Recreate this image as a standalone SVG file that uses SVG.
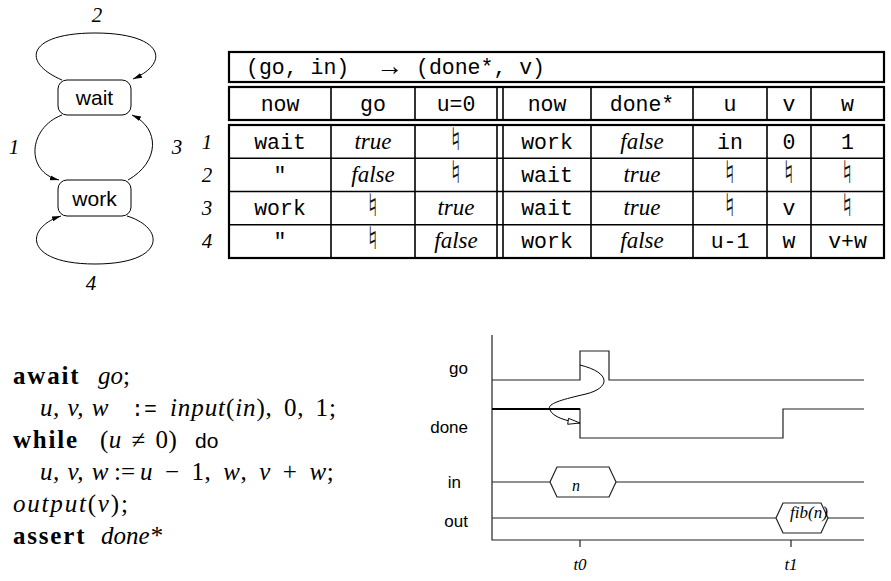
<svg xmlns="http://www.w3.org/2000/svg" width="891" height="581" viewBox="0 0 891 581">
<defs>
<style>
.sans{font-family:"Liberation Sans",Arial,sans-serif;}
.mono{font-family:"Liberation Mono","DejaVu Sans Mono",monospace;font-size:21.5px;}
.it{font-family:"Liberation Serif","Times New Roman",serif;font-style:italic;}
.rm{font-family:"Liberation Serif","Times New Roman",serif;}
.bf{font-family:"Liberation Serif","Times New Roman",serif;font-weight:bold;letter-spacing:1.8px;}
.nat{font-family:"DejaVu Sans",sans-serif;font-size:31px;fill:#111;}
.box{fill:none;stroke:#000;stroke-width:2.2;}
.thin{stroke:#000;stroke-width:1.6;fill:none;}
.edge{fill:none;stroke:#000;stroke-width:1;}
.node rect{fill:#fff;stroke:#000;stroke-width:1;}
.sig{fill:none;stroke:#222;stroke-width:1.2;}
</style>
<marker id="ah" markerWidth="10" markerHeight="8" refX="9" refY="4" orient="auto" markerUnits="userSpaceOnUse">
<path d="M0,1.5 L9,4 L0,6.5 Z" fill="#000"/>
</marker>
<marker id="oah" markerWidth="14" markerHeight="8" refX="13" refY="4" orient="auto" markerUnits="userSpaceOnUse">
<path d="M1,1 L13,4 L1,7 Z" fill="#fff" stroke="#000" stroke-width="0.9"/>
</marker>
</defs>
<rect width="891" height="581" fill="#fff"/>

<!-- State diagram -->
<g id="connectors">
<path class="edge" d="M62,80 C20,62 28,33 95,33 C162,33 172,62 133,79" marker-end="url(#ah)"/>
<path class="edge" d="M62,115 C28,128 25,172 59,180" marker-end="url(#ah)"/>
<path class="edge" d="M128,180 C160,162 160,128 132,115" marker-end="url(#ah)"/>
<path class="edge" d="M127,216 C166,228 166,264 95,264 C24,264 24,228 61,216" marker-end="url(#ah)"/>
</g>
<g id="node-wait" class="node">
<rect x="58" y="80" width="73" height="35" rx="9"/>
<text class="sans" x="94.5" y="105" font-size="21" text-anchor="middle">wait</text>
</g>
<g id="node-work" class="node">
<rect x="58" y="180" width="73" height="36" rx="9"/>
<text class="sans" x="94.5" y="206" font-size="21" text-anchor="middle">work</text>
</g>
<g id="edge-labels" font-size="21">
<text class="it" x="97" y="22" text-anchor="middle">2</text>
<text class="it" x="14" y="154" text-anchor="middle">1</text>
<text class="it" x="177" y="154" text-anchor="middle">3</text>
<text class="it" x="91" y="290" text-anchor="middle">4</text>
</g>

<!-- Table -->
<g id="table">
<rect class="box" x="229" y="52" width="655" height="30"/>
<rect class="box" x="229" y="87" width="655" height="33"/>
<rect class="box" x="229" y="125" width="655" height="133"/>
<g class="thin">
<line x1="331" y1="87" x2="331" y2="120"/><line x1="415" y1="87" x2="415" y2="120"/>
<line x1="497" y1="87" x2="497" y2="120"/><line x1="503" y1="87" x2="503" y2="120"/>
<line x1="591" y1="87" x2="591" y2="120"/><line x1="693" y1="87" x2="693" y2="120"/>
<line x1="767" y1="87" x2="767" y2="120"/><line x1="811" y1="87" x2="811" y2="120"/>
<line x1="331" y1="125" x2="331" y2="258"/><line x1="415" y1="125" x2="415" y2="258"/>
<line x1="497" y1="125" x2="497" y2="258"/><line x1="503" y1="125" x2="503" y2="258"/>
<line x1="591" y1="125" x2="591" y2="258"/><line x1="693" y1="125" x2="693" y2="258"/>
<line x1="767" y1="125" x2="767" y2="258"/><line x1="811" y1="125" x2="811" y2="258"/>
<line x1="229" y1="158.3" x2="884" y2="158.3"/>
<line x1="229" y1="191.5" x2="884" y2="191.5"/>
<line x1="229" y1="224.8" x2="884" y2="224.8"/>
</g>
<text x="246" y="74" class="mono">(go, in)<tspan class="rm" font-size="27" x="376" y="75">→</tspan><tspan x="416" y="74">(done*, v)</tspan></text>
<g class="mono" text-anchor="middle">
<text x="280" y="111">now</text><text x="373" y="111">go</text><text x="456" y="111">u=0</text>
<text x="547" y="111">now</text><text x="642" y="111">done*</text><text x="730" y="111">u</text>
<text x="789" y="111">v</text><text x="847.5" y="111">w</text>
</g>
<g class="it" font-size="21" text-anchor="middle">
<text x="207" y="149">1</text><text x="207" y="182">2</text><text x="207" y="215">3</text><text x="207" y="248">4</text>
</g>
<!-- row 1 -->
<text class="mono" x="280" y="149" text-anchor="middle">wait</text>
<text class="it" font-size="23" x="373" y="149" text-anchor="middle">true</text>
<text class="nat" x="456" y="150" text-anchor="middle">♮</text>
<text class="mono" x="547" y="149" text-anchor="middle">work</text>
<text class="it" font-size="23" x="642" y="149" text-anchor="middle">false</text>
<text class="mono" x="730" y="149" text-anchor="middle">in</text>
<text class="mono" x="789" y="149" text-anchor="middle">0</text>
<text class="mono" x="847.5" y="149" text-anchor="middle">1</text>
<!-- row 2 -->
<text class="mono" x="280" y="182" text-anchor="middle">"</text>
<text class="it" font-size="23" x="373" y="182" text-anchor="middle">false</text>
<text class="nat" x="456" y="183" text-anchor="middle">♮</text>
<text class="mono" x="547" y="182" text-anchor="middle">wait</text>
<text class="it" font-size="23" x="642" y="182" text-anchor="middle">true</text>
<text class="nat" x="730" y="183" text-anchor="middle">♮</text>
<text class="nat" x="789" y="183" text-anchor="middle">♮</text>
<text class="nat" x="847.5" y="183" text-anchor="middle">♮</text>
<!-- row 3 -->
<text class="mono" x="280" y="215" text-anchor="middle">work</text>
<text class="nat" x="373" y="216" text-anchor="middle">♮</text>
<text class="it" font-size="23" x="456" y="215" text-anchor="middle">true</text>
<text class="mono" x="547" y="215" text-anchor="middle">wait</text>
<text class="it" font-size="23" x="642" y="215" text-anchor="middle">true</text>
<text class="nat" x="730" y="216" text-anchor="middle">♮</text>
<text class="mono" x="789" y="215" text-anchor="middle">v</text>
<text class="nat" x="847.5" y="216" text-anchor="middle">♮</text>
<!-- row 4 -->
<text class="mono" x="280" y="248" text-anchor="middle">"</text>
<text class="nat" x="373" y="249" text-anchor="middle">♮</text>
<text class="it" font-size="23" x="456" y="248" text-anchor="middle">false</text>
<text class="mono" x="547" y="248" text-anchor="middle">work</text>
<text class="it" font-size="23" x="642" y="248" text-anchor="middle">false</text>
<text class="mono" x="730" y="248" text-anchor="middle">u-1</text>
<text class="mono" x="789" y="248" text-anchor="middle">w</text>
<text class="mono" x="847.5" y="248" text-anchor="middle">v+w</text>
</g>

<!-- Code -->
<g id="code" font-size="25" class="rm">
<text x="13" y="384"><tspan class="bf">await</tspan><tspan class="it" x="98">go</tspan>;</text>
<text x="40" y="416"><tspan class="it" letter-spacing="0.5" word-spacing="1">u, v, w</tspan><tspan class="mono" font-size="20" x="131">:=</tspan><tspan x="170" letter-spacing="0.9" word-spacing="4"><tspan class="it">input</tspan>(<tspan class="it">in</tspan>), 0, 1;</tspan></text>
<text x="13" y="448"><tspan class="bf" letter-spacing="2.6">while</tspan><tspan x="100" letter-spacing="0.5" word-spacing="3">(<tspan class="it">u</tspan> ≠ 0)</tspan><tspan class="sans" x="195" font-size="21">do</tspan></text>
<text x="40" y="480"><tspan class="it" letter-spacing="0.5" word-spacing="1">u, v, w</tspan><tspan x="114">:=</tspan><tspan x="140" letter-spacing="0.6" word-spacing="5"><tspan class="it">u</tspan> − 1, <tspan class="it">w</tspan>, <tspan class="it">v</tspan> + <tspan class="it">w</tspan>;</tspan></text>
<text x="13" y="512" letter-spacing="1.8"><tspan class="it">output</tspan>(<tspan class="it">v</tspan>);</text>
<text x="13" y="544"><tspan class="bf" letter-spacing="1.4">assert</tspan><tspan class="it" x="101">done*</tspan></text>
</g>

<!-- Timing diagram -->
<g id="timing">
<path class="sig" d="M492,335 V540 H864"/>
<path class="sig" d="M580,540 V547 M791,540 V547"/>
<path class="sig" d="M492,380 H580 V351 H609 V380 H864"/>
<path class="sig" d="M492,409 H580 V438 H783 V409 H864"/>
<path d="M492,409 H580" stroke="#000" stroke-width="1.8" fill="none"/>
<path class="sig" d="M492,482 H550 M616,482 H864"/>
<path class="sig" d="M550,482 L557,467 H609 L616,482 L609,497 H557 Z"/>
<path class="sig" d="M492,518 H776 M828,518 H864"/>
<path class="sig" d="M776,518 L783,503 H821 L828,518 L821,533 H783 Z"/>
<path class="edge" d="M580,365 C612,373 610,388 586,394 C560,400 546,404 550,410 C553,417 566,421 580,423" marker-end="url(#oah)"/>
<g class="sans" font-size="17" text-anchor="end">
<text x="468" y="374">go</text>
<text x="468" y="433">done</text>
<text x="461" y="488">in</text>
<text x="468" y="527">out</text>
</g>
<text class="it" font-size="16" x="576" y="491" text-anchor="middle">n</text>
<text class="it" font-size="17" x="809" y="518" text-anchor="middle">fib(n)</text>
<text class="it" font-size="17" x="580" y="570" text-anchor="middle">t0</text>
<text class="it" font-size="17" x="791" y="570" text-anchor="middle">t1</text>
</g>
</svg>
